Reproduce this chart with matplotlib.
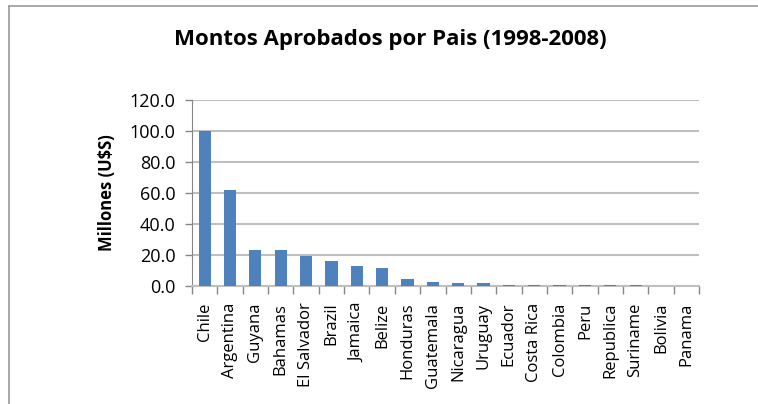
import matplotlib.pyplot as plt
from matplotlib.lines import Line2D

# --------------------------------
# Data
# --------------------------------
paises = ["Chile", "Argentina", "Guyana", "Bahamas", "El Salvador", "Brazil",
          "Jamaica", "Belize", "Honduras", "Guatemala", "Nicaragua", "Uruguay",
          "Ecuador", "Costa Rica", "Colombia", "Peru", "Republica", "Suriname",
          "Bolivia", "Panama"]
montos = [100.0, 62.0, 23.5, 23.5, 19.2, 16.0, 12.7, 11.3, 4.2, 2.8, 2.0, 2.2,
          0.8, 0.8, 0.8, 0.7, 0.8, 0.8, 0.0, 0.0]
y_ticks = [0, 20, 40, 60, 80, 100, 120]

plt.rcParams['font.family'] = ['Open Sans', 'DejaVu Sans']

fig = plt.figure(figsize=(7.58, 4.04), dpi=100)
ax = fig.add_axes([192 / 758, 1 - 286 / 404, (699 - 192) / 758, (286 - 100) / 404])

x = list(range(len(paises)))
ax.bar(x, montos, width=0.48, color='#4F81BD', zorder=3)

ax.set_xlim(-0.5, len(paises) - 0.5)
ax.set_ylim(0, 120)
ax.set_yticks(y_ticks)
ax.set_yticklabels([f"{v:.1f}" for v in y_ticks], fontsize=13)
ax.grid(True, axis='y', color='#BFBFBF', linewidth=1.5, zorder=0)

# category labels centred, tick marks between categories
ax.set_xticks(x)
ax.set_xticklabels(paises, rotation=90, fontsize=12)
ax.tick_params(axis='x', which='major', length=0, pad=12)
ax.set_xticks([i - 0.5 for i in range(len(paises) + 1)], minor=True)
ax.tick_params(axis='x', which='minor', length=6, color='#868686', width=1)
ax.tick_params(axis='y', length=5, color='#868686', width=1, pad=7)

for side in ['top', 'right']:
    ax.spines[side].set_visible(False)
ax.spines['left'].set_color('#868686')
ax.spines['bottom'].set_color('#BFBFBF')
ax.spines['bottom'].set_linewidth(1.5)

ax.set_ylabel("Millones (U$S)", fontsize=12, fontweight='bold', labelpad=10)
fig.text(390 / 758, 1 - 39 / 404, "Montos Aprobados por Pais (1998-2008)",
         ha='center', va='center', fontsize=16, fontweight='bold')

# chart frame (partially visible)
fig.add_artist(Line2D([9 / 758, 1], [1 - 6 / 404, 1 - 6 / 404], color='#999999', linewidth=1.2))
fig.add_artist(Line2D([9 / 758, 9 / 758], [0, 1 - 6 / 404], color='#999999', linewidth=1.2))

fig.savefig("out.png", dpi=100)
